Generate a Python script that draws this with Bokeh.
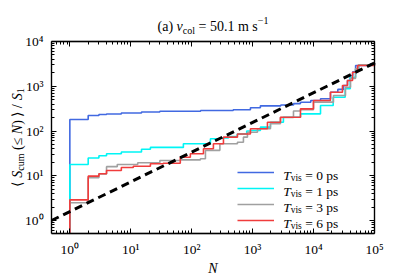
import math
from bokeh.plotting import figure
from bokeh.models import (LogAxis, FixedTicker, CustomJSTickFormatter, Label,
                          Legend, LegendItem, BoxAnnotation)
from bokeh.embed import file_html
from bokeh.resources import INLINE

# ---------------- data ----------------
X_LO, X_HI = 0.5, 1e5          # visible N range of the plot box
Y_LO, Y_HI = 0.513, 1e4        # visible <S_cum>/S_1 range of the plot box

N_T0 = [1, 1, 2, 3, 4, 7, 15, 30, 140, 480, 920, 1340, 2900, 4700, 6100, 9000,
        13000, 19000, 25000, 31000, 36000, 40000, 44000, 49000, 86000, 100000]
S_T0 = [Y_LO, 181, 222, 234, 240, 252, 265, 277, 287, 298, 330, 365, 380, 410, 440, 480,
        524, 737, 850, 1040, 1340, 1740, 2100, 2900, 3180, 3300]

N_T1 = [1, 1, 2, 3, 4, 7, 15, 21, 73, 203, 296, 400, 560, 800, 920, 1340, 1960,
        3200, 6100, 13000, 21000, 33000, 40000, 49000, 55000, 100000]
S_T1 = [Y_LO, 17.8, 25, 28, 31, 34, 39, 43, 52, 67, 70, 75, 86, 100, 103, 122, 157,
        203, 242, 372, 569, 877, 1590, 2460, 3000, 3300]

N_T3 = [1, 1, 2, 3, 4, 6, 13, 30, 65, 139, 168, 290, 563, 706, 822, 1200, 1960,
        2860, 4680, 6100, 9960, 21200, 33400, 40400, 48800, 55000, 100000]
S_T3 = [Y_LO, 2.5, 9.0, 11.0, 16.0, 17.8, 19.5, 21.9, 22.7, 24, 37, 52, 56, 73, 94, 112, 145,
        200, 280, 300, 441, 621, 953, 1500, 2460, 3000, 3300]

N_T6 = [1, 1, 2, 3, 4, 7, 11, 21, 34, 65, 95, 156, 227, 332, 563, 920, 1750,
        2860, 6100, 9960, 18900, 29800, 36000, 43600, 52600, 100000]
S_T6 = [Y_LO, 2.9, 9.8, 11.1, 13.1, 15.3, 16.3, 18.5, 19.1, 26, 31, 40, 52, 73, 86, 112, 157,
        203, 313, 481, 737, 1040, 1340, 2060, 2910, 3300]

DASH_N = [0.5, 1e5]
DASH_S = [1.0, 3300]

T_VIS = ["0", "1", "3", "6"]
COLORS = ["#4169e1", "#00f5f5", "#a0a0a0", "#f03c3c"]
X_TICKS = [1, 10, 100, 1000, 10000, 100000]
Y_TICKS = [1, 10, 100, 1000, 10000]

FONT = "Liberation Serif"

# ---------------- geometry (pixels) ----------------
W, H = 398, 277
BOX_L, BOX_R, BOX_T, BOX_B = 51, 374, 41, 233

lx0, lx1 = math.log10(X_LO), math.log10(X_HI)
ppd_x = (BOX_R - BOX_L) / (lx1 - lx0)
x_start = 10 ** (lx0 - BOX_L / ppd_x)
x_end = 10 ** (lx1 + (W - BOX_R) / ppd_x)
ly0, ly1 = math.log10(Y_LO), math.log10(Y_HI)
ppd_y = (BOX_B - BOX_T) / (ly1 - ly0)
y_start = 10 ** (ly0 - (H - BOX_B) / ppd_y)
y_end = 10 ** (ly1 + BOX_T / ppd_y)

p = figure(width=W, height=H, x_axis_type="log", y_axis_type="log",
           x_axis_location=None, y_axis_location=None,
           x_range=(x_start, x_end), y_range=(y_start, y_end),
           output_backend="svg", toolbar_location=None, min_border=0)
p.grid.visible = False
p.outline_line_color = None
p.background_fill_color = "white"
p.border_fill_color = "white"

minor_x = [m * 10.0 ** k for k in range(-1, 5) for m in range(2, 10)
           if X_LO < m * 10.0 ** k < X_HI]
minor_y = [m * 10.0 ** k for k in range(-1, 4) for m in range(2, 10)
           if Y_LO < m * 10.0 ** k < Y_HI]
xticker = FixedTicker(ticks=X_TICKS, minor_ticks=minor_x)
yticker = FixedTicker(ticks=Y_TICKS, minor_ticks=minor_y)

sup_fmt = CustomJSTickFormatter(code="""
const sup = {"0":"\u2070","1":"\u00b9","2":"\u00b2","3":"\u00b3","4":"\u2074","5":"\u2075","-":"\u207b"};
const e = Math.round(Math.log10(tick));
return "10" + String(e).split("").map(c => sup[c]).join("");
""")
blank_fmt = CustomJSTickFormatter(code="return '';")


def make_axis(ticker, loc, bounds, labels):
    ax = LogAxis(ticker=ticker, fixed_location=loc, bounds=bounds)
    ax.major_tick_in = 5
    ax.major_tick_out = 0
    ax.minor_tick_in = 3
    ax.minor_tick_out = 0
    ax.axis_line_color = "black"
    ax.axis_line_width = 1.3
    ax.major_tick_line_color = "black"
    ax.minor_tick_line_color = "black"
    ax.axis_label = None
    if labels:
        ax.formatter = sup_fmt
        ax.major_label_text_font = FONT
        ax.major_label_text_font_size = "13.5px"
        ax.major_label_text_color = "black"
        ax.major_label_standoff = 8
    else:
        ax.formatter = blank_fmt
        ax.major_label_text_font_size = "0px"
        ax.major_label_standoff = 0
    return ax


p.add_layout(make_axis(xticker, Y_LO, (X_LO, X_HI), True), "below")
p.add_layout(make_axis(xticker, Y_HI, (X_LO, X_HI), False), "above")
p.add_layout(make_axis(yticker, X_LO, (Y_LO, Y_HI), True), "left")
p.add_layout(make_axis(yticker, X_HI, (Y_LO, Y_HI), False), "right")

# plot box outline
p.add_layout(BoxAnnotation(left=X_LO, right=X_HI, bottom=Y_LO, top=Y_HI,
                           fill_alpha=0, line_color="black", line_width=1.3,
                           level="overlay"))

renderers = []
for xs, ys, c in zip([N_T0, N_T1, N_T3, N_T6], [S_T0, S_T1, S_T3, S_T6], COLORS):
    r = p.step(xs, ys, mode="after", line_color=c, line_width=1.6)
    renderers.append(r)

p.line(DASH_N, DASH_S, line_color="black", line_width=3, line_dash="8 5")

ROW_Y = [105.3, 89.3, 73.3, 57.3]   # legend row centres, px from canvas bottom
legend = Legend(items=[LegendItem(label=" ", renderers=[r]) for r in renderers],
                location=(236.7, ROW_Y[-1] - 8), glyph_width=37, glyph_height=16,
                label_height=16, label_width=1, spacing=0, padding=0, margin=0,
                label_standoff=0, border_line_color=None, background_fill_alpha=0,
                label_text_font_size="1px")
p.add_layout(legend)

# ---------------- rich text helpers ----------------
W_REG = {' ': 250, '(': 333, ')': 333, 'a': 444, '=': 564, '.': 250, 'm': 778,
         's': 389, '\u2212': 564, 'c': 444, 'o': 500, 'l': 278, 'u': 500, 'v': 500,
         'i': 278, 'p': 500, '/': 278, '\u2264': 549, '\u27e8': 390, '\u27e9': 390,
         'T': 611, 'S': 556, 'N': 722}
W_IT = {'v': 444, 'S': 500, 'N': 667, 'T': 556}


def text_width(s, size, italic):
    tot = 0
    for ch in s:
        if italic and ch in W_IT:
            tot += W_IT[ch]
        else:
            tot += W_REG.get(ch, 500)
    return tot * size / 1000.0


def total_width(pieces):
    return sum(text_width(t, s, i) for t, s, i, _ in pieces)


def rich(pieces, x0, y0, angle=0.0):
    pos = 0.0
    for text, size, italic, shift in pieces:
        stripped = text.lstrip(" ")
        pos += text_width(text[:len(text) - len(stripped)], size, italic)
        if angle == 0:
            x, y = x0 + pos, y0 + shift
        else:
            x, y = x0 - shift, y0 + pos
        p.add_layout(Label(x=x, y=y, x_units="screen", y_units="screen", text=stripped,
                           text_font=FONT, text_font_size=f"{size}px",
                           text_font_style="italic" if italic else "normal",
                           text_color="black", angle=angle,
                           text_align="left", text_baseline="alphabetic"))
        pos += text_width(stripped, size, italic)


cx = (BOX_L + BOX_R) / 2.0
cy = H - (BOX_T + BOX_B) / 2.0

# title
title_pieces = [("(a) ", 14, False, 0), ("v", 14, True, 0), ("col", 10, False, -3.5),
                (" = 50.1 m s", 14, False, 0), ("\u22121", 10, False, 6)]
rich(title_pieces, cx - total_width(title_pieces) / 2, H - 26)

# y label (rotated)
ylab = [("\u27e8 ", 14, False, 0), ("S", 14, True, 0), ("cum", 10, False, -3.5),
        (" (\u2264 ", 14, False, 0), ("N", 14, True, 0), (") \u27e9 / ", 14, False, 0),
        ("S", 14, True, 0), ("1", 10, False, -3.5)]
rich(ylab, 16.5, cy - total_width(ylab) / 2, angle=math.pi / 2)

# x label
xlab = [("N", 14, True, 0)]
rich(xlab, cx - total_width(xlab) / 2, H - 268)

# legend texts
for t, yy in zip(T_VIS, ROW_Y):
    rich([("T", 13.5, True, 0), ("vis", 9.5, False, -3), (f" = {t} ps", 13.5, False, 0)],
         282.7, yy - 3)

with open("out.html", "w", encoding="utf-8") as f:
    f.write(file_html(p, INLINE))
